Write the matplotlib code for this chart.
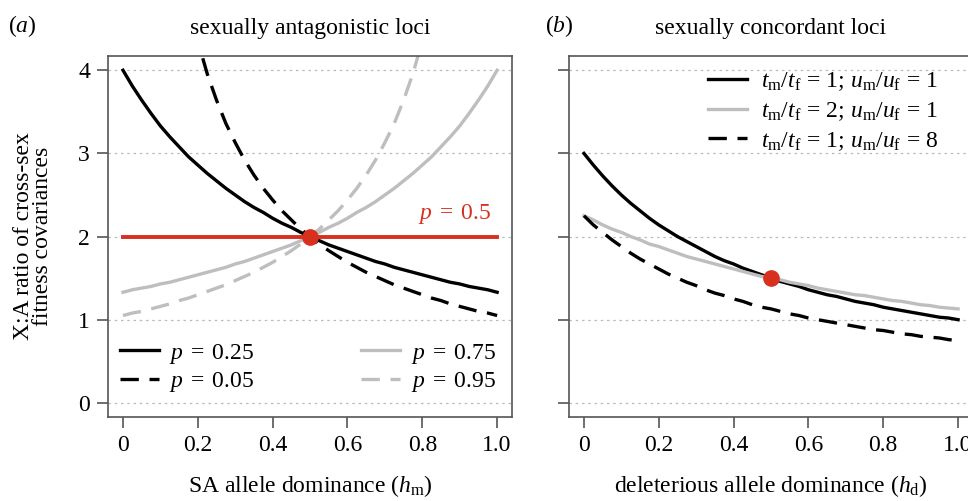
import matplotlib
matplotlib.use("Agg")
import matplotlib.pyplot as plt

plt.rcParams['font.family'] = ['Liberation Serif', 'DejaVu Serif']
plt.rcParams['mathtext.fontset'] = 'custom'
plt.rcParams['mathtext.rm'] = 'Liberation Serif'
plt.rcParams['mathtext.it'] = 'Liberation Serif:italic'

# valeurs
h = [0.0, 0.025, 0.05, 0.075, 0.1, 0.125, 0.15, 0.175, 0.2, 0.225, 0.25,
     0.275, 0.3, 0.325, 0.35, 0.375, 0.4, 0.425, 0.45, 0.475, 0.5,
     0.525, 0.55, 0.575, 0.6, 0.625, 0.65, 0.675, 0.7, 0.725, 0.75,
     0.775, 0.8, 0.825, 0.85, 0.875, 0.9, 0.925, 0.95, 0.975, 1.0]

# (a) locus antagonistes
sa_p025 = [4.00, 3.81, 3.64, 3.48, 3.33, 3.20, 3.08, 2.96, 2.86, 2.76, 2.67,
           2.58, 2.50, 2.42, 2.35, 2.29, 2.22, 2.16, 2.11, 2.05, 2.00,
           1.95, 1.90, 1.86, 1.82, 1.78, 1.74, 1.70, 1.67, 1.63, 1.60,
           1.57, 1.54, 1.51, 1.48, 1.45, 1.43, 1.40, 1.38, 1.36, 1.33]
sa_p075 = [1.33, 1.36, 1.38, 1.40, 1.43, 1.45, 1.48, 1.51, 1.54, 1.57, 1.60,
           1.63, 1.67, 1.70, 1.74, 1.78, 1.82, 1.86, 1.90, 1.95, 2.00,
           2.05, 2.11, 2.16, 2.22, 2.29, 2.35, 2.42, 2.50, 2.58, 2.67,
           2.76, 2.86, 2.96, 3.08, 3.20, 3.33, 3.48, 3.64, 3.81, 4.00]
h_p005 = [0.175, 0.2, 0.225, 0.25, 0.275, 0.3, 0.325, 0.35, 0.375, 0.4,
          0.425, 0.45, 0.475, 0.5, 0.525, 0.55, 0.575, 0.6, 0.625, 0.65,
          0.675, 0.7, 0.725, 0.75, 0.775, 0.8, 0.825, 0.85, 0.875, 0.9,
          0.925, 0.95, 0.975, 1.0]
sa_p005 = [4.82, 4.35, 3.96, 3.64, 3.36, 3.13, 2.92, 2.74, 2.58, 2.44,
           2.31, 2.20, 2.09, 2.00, 1.91, 1.83, 1.76, 1.69, 1.63, 1.57,
           1.52, 1.47, 1.42, 1.38, 1.34, 1.30, 1.26, 1.23, 1.19, 1.16,
           1.13, 1.10, 1.08, 1.05]
h_p095 = [0.0, 0.025, 0.05, 0.075, 0.1, 0.125, 0.15, 0.175, 0.2, 0.225,
          0.25, 0.275, 0.3, 0.325, 0.35, 0.375, 0.4, 0.425, 0.45, 0.475,
          0.5, 0.525, 0.55, 0.575, 0.6, 0.625, 0.65, 0.675, 0.7, 0.725,
          0.75, 0.775, 0.8, 0.825]
sa_p095 = [1.05, 1.08, 1.10, 1.13, 1.16, 1.19, 1.23, 1.26, 1.30, 1.34,
           1.38, 1.42, 1.47, 1.52, 1.57, 1.63, 1.69, 1.76, 1.83, 1.91,
           2.00, 2.09, 2.20, 2.31, 2.44, 2.58, 2.74, 2.92, 3.13, 3.36,
           3.64, 3.96, 4.35, 4.82]
h_p05 = [0.0, 1.0]
sa_p05 = [2.0, 2.0]

# (b) locus concordants
sc_11 = [3.00, 2.86, 2.73, 2.61, 2.50, 2.40, 2.31, 2.22, 2.14, 2.07, 2.00,
         1.94, 1.88, 1.82, 1.76, 1.71, 1.67, 1.62, 1.58, 1.54, 1.50,
         1.46, 1.43, 1.40, 1.36, 1.33, 1.30, 1.28, 1.25, 1.22, 1.20,
         1.18, 1.15, 1.13, 1.11, 1.09, 1.07, 1.05, 1.03, 1.02, 1.00]
sc_21 = [2.25, 2.20, 2.14, 2.09, 2.05, 2.00, 1.96, 1.91, 1.88, 1.84, 1.80,
         1.76, 1.73, 1.70, 1.67, 1.64, 1.61, 1.58, 1.55, 1.52, 1.50,
         1.48, 1.45, 1.43, 1.41, 1.38, 1.36, 1.34, 1.32, 1.30, 1.29,
         1.27, 1.25, 1.23, 1.22, 1.20, 1.18, 1.17, 1.15, 1.14, 1.13]
sc_18 = [2.25, 2.14, 2.05, 1.96, 1.88, 1.80, 1.73, 1.67, 1.61, 1.55, 1.50,
         1.45, 1.41, 1.36, 1.32, 1.29, 1.25, 1.22, 1.18, 1.15, 1.13,
         1.10, 1.07, 1.05, 1.02, 1.00, 0.98, 0.96, 0.94, 0.92, 0.90,
         0.88, 0.87, 0.85, 0.83, 0.82, 0.80, 0.79, 0.78, 0.76, 0.75]

point_a = (0.5, 2.0)
point_b = (0.5, 1.5)

xticks = [0, 0.2, 0.4, 0.6, 0.8, 1.0]
xticklabels = ['0', '0.2', '0.4', '0.6', '0.8', '1.0']
yticks = [0, 1, 2, 3, 4]

noir = 'black'
gris = '#bebebe'
rouge = '#d7301f'
lw = 2.4
tirets = (5.5, 3.2)
fs = 17

fig = plt.figure(figsize=(9.68, 5.01), dpi=100)
axa = fig.add_axes([0.1116, 0.1677, 0.4174, 0.7203])
axb = fig.add_axes([0.5878, 0.1677, 0.4174, 0.7203])

for ax in (axa, axb):
    ax.set_xlim(-0.04, 1.04)
    ax.set_ylim(-0.17, 4.17)
    ax.set_xticks(xticks)
    ax.set_xticklabels(xticklabels)
    ax.set_yticks(yticks)
    for y in yticks:
        ax.axhline(y, color='#bbbbbb', lw=0.9, ls=(0, (2, 3)), zorder=0)
    for s in ax.spines.values():
        s.set_color('#555555')
        s.set_linewidth(1.2)
    ax.tick_params(direction='out', length=8, width=1.2, color='#555555',
                   labelsize=fs, pad=5)

# panneau (a)
axa.plot(h, sa_p025, color=noir, lw=lw, label='$p\\;=\\;0.25$')
axa.plot(h_p005, sa_p005, color=noir, lw=lw, dashes=tirets, label='$p\\;=\\;0.05$')
axa.plot(h, sa_p075, color=gris, lw=lw, label='$p\\;=\\;0.75$')
axa.plot(h_p095, sa_p095, color=gris, lw=lw, dashes=tirets, label='$p\\;=\\;0.95$')
axa.plot(h_p05, sa_p05, color=rouge, lw=lw + 0.4)
axa.plot(*point_a, 'o', color=rouge, ms=11, zorder=5)
axa.text(0.985, 2.27, '$p\\;=\\;0.5$', color=rouge, fontsize=fs, ha='right', va='center')

leg_kw = dict(frameon=False, fontsize=fs, handlelength=1.65, handletextpad=0.45,
              labelspacing=0.2, borderaxespad=0.2, borderpad=0.3)
handles, labels = axa.get_legend_handles_labels()
leg1 = axa.legend(handles[:2], labels[:2], loc='lower left',
                  bbox_to_anchor=(0.0, 0.03), **leg_kw)
axa.add_artist(leg1)
axa.legend(handles[2:], labels[2:], loc='lower right',
           bbox_to_anchor=(0.99, 0.03), **leg_kw)

axa.set_ylabel('X:A ratio of cross-sex\nfitness covariances', fontsize=fs, labelpad=18,
               linespacing=0.85)
axa.set_xlabel('SA allele dominance ($h_\\mathrm{m}$)', fontsize=fs, labelpad=12)
axa.set_title('sexually antagonistic loci', fontsize=fs, pad=16)
fig.text(0.008, 0.948, '($a$)', fontsize=fs, va='center')

# panneau (b)
axb.plot(h, sc_11, color=noir, lw=lw,
         label='$t_\\mathrm{m}/t_\\mathrm{f}\\,=\\,1$; $u_\\mathrm{m}/u_\\mathrm{f}\\,=\\,1$')
axb.plot(h, sc_21, color=gris, lw=lw,
         label='$t_\\mathrm{m}/t_\\mathrm{f}\\,=\\,2$; $u_\\mathrm{m}/u_\\mathrm{f}\\,=\\,1$')
axb.plot(h, sc_18, color=noir, lw=lw, dashes=tirets,
         label='$t_\\mathrm{m}/t_\\mathrm{f}\\,=\\,1$; $u_\\mathrm{m}/u_\\mathrm{f}\\,=\\,8$')
axb.plot(*point_b, 'o', color=rouge, ms=11, zorder=5)
axb.legend(loc='upper right', bbox_to_anchor=(0.95, 1.0), frameon=False, fontsize=fs,
           handlelength=1.65, handletextpad=0.6, labelspacing=0.3, borderaxespad=0.2)
axb.set_yticklabels([])
axb.set_xlabel('deleterious allele dominance ($h_\\mathrm{d}$)', fontsize=fs, labelpad=12)
axb.set_title('sexually concordant loci', fontsize=fs, pad=16)
fig.text(0.563, 0.948, '($b$)', fontsize=fs, va='center')

fig.savefig('out.png', dpi=100)
